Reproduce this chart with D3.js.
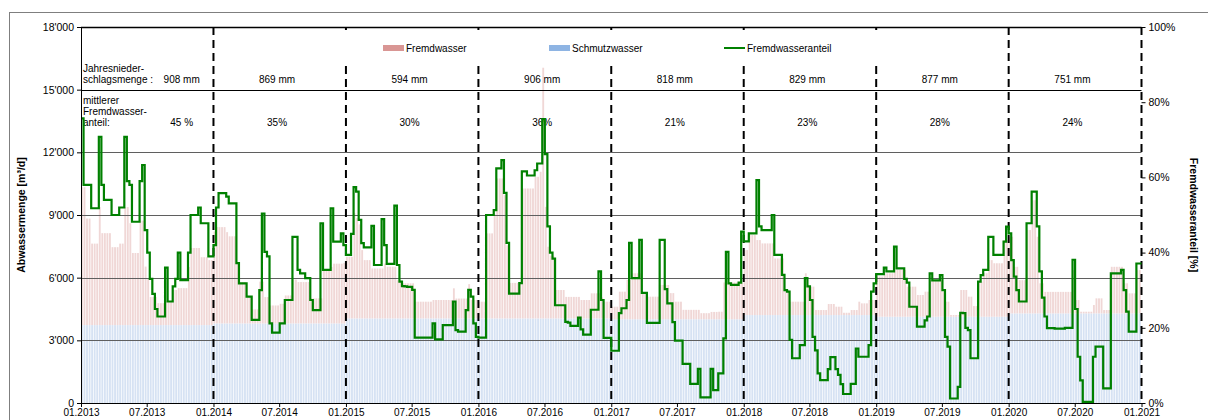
<!DOCTYPE html>
<html>
<head>
<meta charset="utf-8">
<script src="https://cdn.jsdelivr.net/npm/d3@7"></script>
<style>
  body { margin: 0; background: #fff; }
  svg { display: block; font-family: "Liberation Sans", Arial, sans-serif; }
</style>
</head>
<body>
<div id="chart"></div>
<script>
// --- data (weekly values, 52 per year) ---
const years = [2013, 2014, 2015, 2016, 2017, 2018, 2019, 2020];
const niederschlag = ["908 mm", "869 mm", "594 mm", "906 mm", "818 mm", "829 mm", "877 mm", "751 mm"];
const mittlererAnteil = ["45 %", "35%", "30%", "36%", "21%", "23%", "28%", "24%"];

// Schmutzwasser [m3/d], per year
const schmutzwasser = [3730, 3810, 4050, 4050, 4010, 4210, 4130, 4290];

// Fremdwasser [m3/d], weekly
const fremdwasser = [
  [6600, 6600, 5100, 5100, 3900, 3900, 3900, 5650, 4400, 4400, 4400, 4400, 3730, 3730, 3730, 3900, 3900, 5650, 5650, 4880, 3450, 3450, 3450, 5000, 5000, 2800, 2200, 1340, 1340, 1340, 1050, 1050, 1050, 1150, 1150, 1150, 1680, 1680, 1770, 1770, 1770, 1770, 2780, 3690, 3690, 3690, 3690, 3250, 3250, 3250, 3110, 3110],
  [4400, 4610, 4610, 4610, 4610, 4370, 4170, 4170, 4170, 2870, 1980, 1980, 1980, 1260, 1260, 670, 670, 670, 2000, 2000, 1260, 1260, 860, 860, 860, 860, 940, 940, 1340, 1340, 1340, 2100, 2100, 1980, 1980, 1980, 1980, 1980, 1200, 1200, 1200, 1200, 1200, 2540, 2540, 2540, 2700, 2860, 2860, 2860, 2860, 2900],
  [2950, 2950, 2950, 5040, 4800, 4500, 3270, 2790, 2790, 2790, 2390, 2390, 2390, 2390, 2390, 2630, 2470, 2470, 2470, 2470, 1830, 1830, 1680, 1680, 1680, 1680, 1680, 800, 800, 800, 800, 800, 800, 800, 880, 880, 880, 880, 880, 880, 880, 880, 1440, 950, 950, 950, 950, 950, 1640, 880, 880, 880],
  [800, 800, 800, 4070, 4070, 4070, 5000, 6700, 6700, 6700, 5900, 3500, 1700, 1700, 1700, 1700, 1700, 6220, 6220, 6220, 6220, 6220, 6780, 6780, 7020, 12000, 5340, 3430, 3000, 3000, 1360, 1360, 1360, 1360, 1030, 1030, 1030, 1030, 1030, 1030, 880, 880, 880, 880, 1200, 1200, 1200, 1200, 1000, 800, 800, 800],
  [600, 600, 600, 1320, 1320, 1320, 1880, 1880, 2200, 2200, 2200, 2200, 1250, 1250, 1080, 1080, 1080, 1080, 1080, 1640, 1640, 1640, 1640, 1250, 1250, 840, 840, 840, 450, 450, 450, 450, 450, 450, 450, 290, 290, 290, 290, 350, 350, 350, 360, 360, 1760, 1760, 1760, 1760, 1760, 1760, 1760, 1760],
  [3110, 3110, 3830, 3830, 3830, 3590, 3590, 3430, 3430, 3430, 3430, 3430, 2710, 2710, 2710, 2710, 1200, 1200, 640, 640, 640, 640, 640, 640, 2000, 1360, 1360, 1360, 240, 240, 240, 240, 240, 530, 530, 530, 400, 400, 400, 110, 110, 110, 240, 240, 240, 640, 560, 560, 560, 720, 720, 720],
  [1920, 1920, 1920, 2080, 2080, 2080, 2080, 2240, 2240, 2240, 2240, 2240, 1440, 1440, 1440, 1440, 1040, 1040, 1040, 1200, 1200, 1760, 1760, 1760, 1760, 1760, 1200, 720, 720, 80, 80, 80, 80, 1280, 1280, 1280, 960, 960, 510, 510, 1680, 1680, 2080, 2080, 2710, 2710, 2560, 2560, 2560, 2560, 3670, 3670],
  [3670, 3670, 2230, 2230, 1590, 1590, 1590, 3990, 3990, 5420, 5420, 3670, 1440, 1440, 1030, 1030, 1030, 1030, 1030, 1030, 1030, 1030, 1030, 1030, 1030, 2070, 640, 640, 80, 80, 80, 80, 80, 400, 720, 720, 720, 160, 160, 160, 2230, 2230, 2230, 2230, 2230, 1440, 1440, 960, 960, 960, 2070, 2070]
];

// Fremdwasseranteil [%], weekly
const fremdwasseranteil = [
  [75.7, 58, 58, 58, 51.8, 51.8, 51.8, 70.8, 58, 54, 54, 54, 50, 50, 50, 52, 52, 70.8, 59, 58, 48.2, 48.2, 48.2, 59, 63.3, 46, 40, 33, 29, 25, 23, 23, 23, 36, 27, 27, 31, 33, 40, 32.7, 32.7, 32.7, 40, 50, 50, 50, 52, 47.8, 47.8, 47.8, 39, 39],
  [42, 52, 55.8, 55.8, 55.8, 54.9, 53.1, 53.1, 53.1, 37.2, 31.8, 31.8, 31.8, 28.3, 28.3, 22.1, 22.1, 22.1, 30, 50.4, 40.2, 39, 21.2, 18.7, 18.7, 18.7, 21.2, 21.2, 27.4, 27.4, 27.4, 44.2, 44.2, 35.4, 34.5, 34.5, 33.2, 33.2, 27.4, 24.7, 24.7, 24.7, 47.8, 35.4, 35.4, 35.4, 51.8, 42.9, 42.9, 42.9, 45.1, 42],
  [39.4, 39.4, 45, 57.4, 56.2, 48.7, 42.5, 41.4, 41.4, 41.4, 47.1, 36.7, 36.7, 36.7, 48.9, 42, 37, 37, 37, 52.5, 36.7, 32.3, 31.1, 31, 30.9, 30.9, 30.1, 17.4, 17.4, 17.4, 17.4, 17.4, 17.4, 17.4, 21.2, 16.9, 16.9, 16.9, 20.7, 20.7, 20.7, 20.7, 27, 19.4, 19, 19, 19, 24.7, 30.1, 28.3, 21.2, 17.6],
  [17.4, 17.4, 17.4, 50, 50, 50, 51.3, 62.4, 62.4, 64.6, 55.9, 42.6, 29.1, 29.1, 29.1, 29.1, 31.9, 61.6, 61.6, 60.5, 60.5, 60.5, 61.9, 63.7, 63.7, 75.5, 66.2, 47, 40, 38.4, 26, 26, 26, 26, 21.6, 21.4, 20.5, 20.5, 20.5, 22.7, 19.6, 18.2, 18.2, 18.2, 24.8, 24.8, 24.8, 35, 27.4, 17.3, 17.3, 17.3],
  [13.9, 13.9, 13.9, 23.9, 25.2, 25.2, 27.4, 42.6, 33.2, 33.2, 33.2, 43.4, 29.3, 29.3, 21.3, 21.3, 21.3, 21.3, 21.3, 43.4, 43.4, 30.3, 26.5, 26.5, 21.5, 16.6, 16.6, 16.6, 10.4, 10.4, 10.4, 5.1, 5.1, 5.1, 9.1, 1.5, 1.5, 1.5, 1.5, 9.1, 3.4, 3.4, 7.9, 7.9, 17.2, 40.2, 31.8, 31.4, 31.4, 31.4, 32, 45.6],
  [43, 43, 45.1, 45.1, 45.1, 59.3, 47, 46, 46, 46, 46, 50, 39.4, 39.4, 39.4, 34.1, 30, 29.6, 16.8, 11.9, 11.9, 11.9, 15.4, 15.4, 33.2, 31, 27.4, 17.6, 14, 7.9, 6.1, 6.1, 6.1, 9, 12.2, 12.2, 9, 7.5, 5, 2.4, 2.4, 2.4, 5.1, 5.1, 14.5, 12.3, 12.3, 12.3, 12.3, 15.4, 29.6, 31.8],
  [34.3, 34.3, 34.3, 36, 35, 35, 35, 41.6, 35.8, 35.8, 35.8, 33, 32, 25.6, 25.6, 25.6, 20.3, 20.3, 20.3, 22, 23, 34.5, 32.6, 32.6, 32.6, 34, 30, 17.6, 15, 1.2, 1.2, 1.2, 4.3, 24, 23.9, 20, 19.4, 11.9, 11.9, 11.9, 32.3, 34, 35.4, 35.4, 44.2, 44.2, 39.4, 39.4, 39.4, 39.4, 42.9, 46.9],
  [45.1, 38, 33.6, 30, 27, 27, 27, 47.8, 47.8, 56.2, 56.2, 47, 35, 28, 23, 19.9, 19.9, 19.9, 19.8, 19.8, 19.8, 19.8, 20, 20, 20, 38.1, 25, 12.3, 6, 0.3, 0.3, 0.3, 0.3, 12.3, 15, 15, 15, 3.9, 3.9, 3.9, 34.5, 34.5, 34.5, 34.5, 35.4, 30, 24.3, 19, 19, 19, 37.1, 37.1]
];

const mengeTicks = [0, 3000, 6000, 9000, 12000, 15000, 18000];
const anteilTicks = [0, 20, 40, 60, 80, 100];

const config = {
  width: 1208,
  height: 420,
  margin: {top: 27, right: 66.5, bottom: 17, left: 81},
  colors: {
    fremd: "#f0d7d6",
    schmutz: "#d6e2f3",
    fremdLegend: "#d99694",
    schmutzLegend: "#8eb4e3",
    line: "#008000",
    grid: "#5f5f5f"
  },
  font: 10
};

const W = config.width, H = config.height, mg = config.margin;
const pL = mg.left, pR = W - mg.right, pT = mg.top, pB = H - mg.bottom;

const svg = d3.select("#chart").append("svg")
  .attr("width", W)
  .attr("height", H)
  .attr("viewBox", [0, 0, W, H]);

const utc = (yr, mo = 0) => new Date(Date.UTC(yr, mo, 1));
const x = d3.scaleUtc([utc(2013), utc(2021)], [pL, pR]);
const y = d3.scaleLinear([0, 18000], [pB, pT]);
const yP = d3.scaleLinear([0, 100], [pB, pT]);

const fmt = d3.formatLocale({decimal: ".", thousands: "'", grouping: [3], currency: ["", ""]}).format(",");

// outer frame
svg.append("rect")
  .attr("x", 9.5).attr("y", 12.5)
  .attr("width", 1300).attr("height", 500)
  .attr("fill", "none").attr("stroke", "#7f7f7f").attr("stroke-width", 1);

// weekly bars + line points
const bars = [];
const pts = [];
years.forEach((yr, k) => {
  const xa = x(utc(yr)), xb = x(utc(yr + 1));
  const bw = (xb - xa) / 52;
  fremdwasser[k].forEach((f, i) => {
    bars.push({x: xa + i * bw, w: bw, s: schmutzwasser[k], f: f});
  });
  fremdwasseranteil[k].forEach((p, i) => pts.push([xa + i * bw, p]));
});
pts.push([pR, fremdwasseranteil[7][51]]);

const gBars = svg.append("g");
gBars.selectAll(".schmutz")
  .data(bars)
  .join("rect")
  .attr("x", d => d.x)
  .attr("width", d => d.w - 0.7)
  .attr("y", d => y(d.s))
  .attr("height", d => y(0) - y(d.s))
  .attr("fill", config.colors.schmutz);

gBars.selectAll(".fremd")
  .data(bars)
  .join("rect")
  .attr("x", d => d.x)
  .attr("width", d => d.w - 0.7)
  .attr("y", d => y(d.s + d.f))
  .attr("height", d => y(d.s) - y(d.s + d.f))
  .attr("fill", config.colors.fremd);

// grid lines
svg.append("g")
  .selectAll("line")
  .data(mengeTicks.filter(v => v > 0))
  .join("line")
  .attr("x1", pL).attr("x2", pR)
  .attr("y1", d => Math.round(y(d)) + 0.5)
  .attr("y2", d => Math.round(y(d)) + 0.5)
  .attr("stroke", d => d >= 15000 ? "#000" : config.colors.grid)
  .attr("stroke-width", d => d === 18000 ? 1.3 : 1);

// year separators
svg.append("g")
  .selectAll("line")
  .data(d3.range(2014, 2022))
  .join("line")
  .attr("x1", d => x(utc(d))).attr("x2", d => x(utc(d)))
  .attr("y1", pT).attr("y2", pB)
  .attr("stroke", "#000")
  .attr("stroke-width", 2)
  .attr("stroke-dasharray", "8,5");

// legend
svg.append("rect")
  .attr("x", 338).attr("y", 30)
  .attr("width", 550).attr("height", 35)
  .attr("fill", "#fff");

const legend = svg.append("g").attr("font-size", config.font);
const legendItems = [
  {label: "Fremdwasser", x: 383, type: "rect", color: config.colors.fremdLegend},
  {label: "Schmutzwasser", x: 549, type: "rect", color: config.colors.schmutzLegend},
  {label: "Fremdwasseranteil", x: 724, type: "line", color: config.colors.line}
];
legendItems.forEach(it => {
  if (it.type === "rect") {
    legend.append("rect").attr("x", it.x).attr("y", 45).attr("width", 21).attr("height", 6).attr("fill", it.color);
  } else {
    legend.append("line").attr("x1", it.x).attr("x2", it.x + 21).attr("y1", 48).attr("y2", 48)
      .attr("stroke", it.color).attr("stroke-width", 2);
  }
  legend.append("text").attr("x", it.x + 23).attr("y", 51.5).text(it.label);
});

// table texts
const table = svg.append("g").attr("font-size", config.font).attr("fill", "#000");
[["Jahresnieder-", 72], ["schlagsmenge :", 82.5], ["mittlerer", 103.5], ["Fremdwasser-", 114.5], ["anteil:", 125.5]]
  .forEach(([t, yy]) => table.append("text").attr("x", 83).attr("y", yy).text(t));

const labelX = (yr, k) => {
  const xa = x(utc(yr)), xb = x(utc(yr + 1));
  return xa + (xb - xa) * (k === 0 ? 0.76 : 0.48);
};
table.selectAll(".mm")
  .data(years)
  .join("text")
  .attr("x", (d, k) => labelX(d, k))
  .attr("y", 82.5)
  .attr("text-anchor", "middle")
  .text((d, k) => niederschlag[k]);
table.selectAll(".pc")
  .data(years)
  .join("text")
  .attr("x", (d, k) => labelX(d, k))
  .attr("y", 125.5)
  .attr("text-anchor", "middle")
  .text((d, k) => mittlererAnteil[k]);

// Fremdwasseranteil line
svg.append("path")
  .datum(pts)
  .attr("fill", "none")
  .attr("stroke", config.colors.line)
  .attr("stroke-width", 2.2)
  .attr("d", d3.line().x(d => d[0]).y(d => yP(d[1])).curve(d3.curveStepAfter));

// axes
svg.append("g")
  .attr("transform", `translate(${pL},0)`)
  .call(d3.axisLeft(y).tickValues(mengeTicks).tickFormat(fmt).tickSize(4).tickSizeOuter(0))
  .call(g => g.select(".domain").attr("stroke", "#000"))
  .call(g => g.selectAll("text").attr("font-size", 10.5).attr("font-family", null).attr("fill", "#000"));

svg.append("g")
  .attr("transform", `translate(${pR},0)`)
  .call(d3.axisRight(yP).tickValues(anteilTicks).tickFormat(d => d + "%").tickSize(4).tickSizeOuter(0))
  .call(g => g.select(".domain").remove())
  .call(g => g.selectAll("text").attr("font-size", 10.5).attr("font-family", null).attr("fill", "#000"));

const halfYears = d3.utcMonth.every(6).range(utc(2013), new Date(Date.UTC(2021, 0, 2)));
svg.append("g")
  .attr("transform", `translate(0,${pB})`)
  .call(d3.axisBottom(x).tickValues(halfYears).tickFormat(d3.utcFormat("%m.%Y")).tickSize(4).tickSizeOuter(0).tickPadding(2))
  .call(g => g.select(".domain").attr("stroke", "#000"))
  .call(g => g.selectAll("text").attr("font-size", 10).attr("font-family", null).attr("fill", "#000"));

// axis titles
svg.append("text")
  .attr("transform", `translate(25,${(pT + pB) / 2}) rotate(-90)`)
  .attr("text-anchor", "middle")
  .attr("font-size", 10.5)
  .attr("font-weight", "bold")
  .text("Abwassermenge [m³/d]");

svg.append("text")
  .attr("transform", `translate(1190,${(pT + pB) / 2}) rotate(90)`)
  .attr("text-anchor", "middle")
  .attr("font-size", 10.5)
  .attr("font-weight", "bold")
  .text("Fremdwasseranteil [%]");
</script>
</body>
</html>
